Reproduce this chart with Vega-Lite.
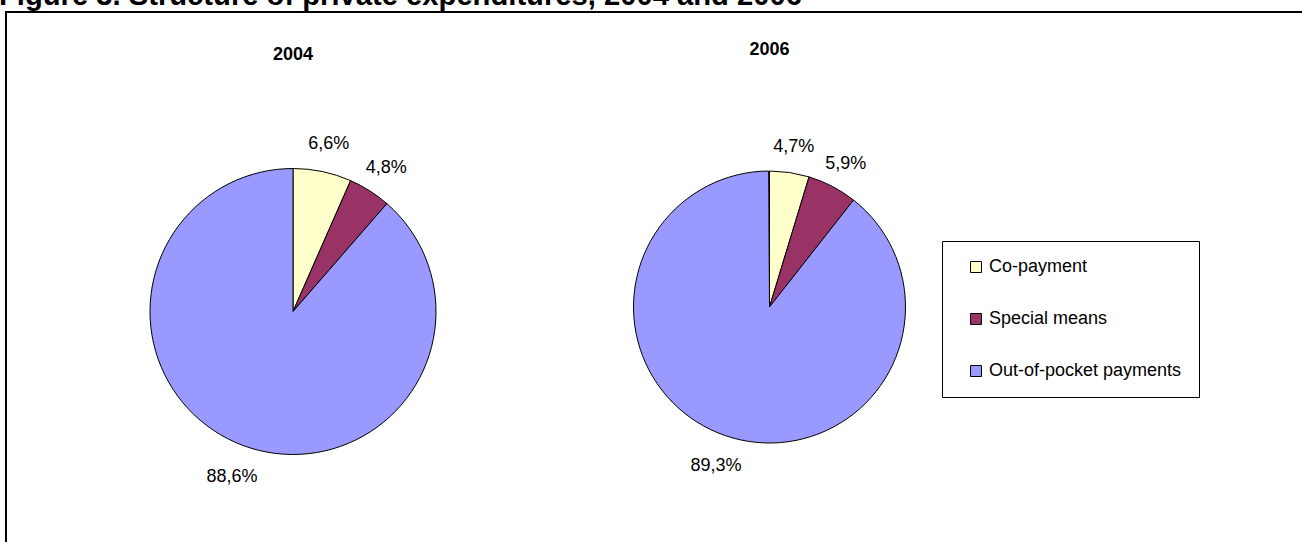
{
  "$schema": "https://vega.github.io/schema/vega-lite/v6.json",
  "width": 1300,
  "height": 535,
  "autosize": {"type": "none"},
  "padding": {"left": 6, "top": 12, "right": 0, "bottom": 0},
  "background": "#ffffff",
  "title": {
    "text": "Figure 3. Structure of private expenditures, 2004 and 2006",
    "anchor": "start",
    "frame": "group",
    "font": "Liberation Sans",
    "fontSize": 29.2,
    "fontWeight": "bold",
    "color": "#000000",
    "dx": -7,
    "offset": 1
  },
  "config": {
    "locale": {
      "number": {
        "decimal": ",",
        "thousands": ".",
        "grouping": [3],
        "currency": ["", " €"],
        "percent": "%"
      }
    },
    "view": {"stroke": "#000000", "strokeWidth": 2},
    "font": "Liberation Sans"
  },
  "data": {
    "values": [
      {"year": "2004", "category": "Co-payment", "seq": 1, "share": 0.066},
      {"year": "2004", "category": "Special means", "seq": 2, "share": 0.048},
      {"year": "2004", "category": "Out-of-pocket payments", "seq": 3, "share": 0.886},
      {"year": "2006", "category": "Co-payment", "seq": 1, "share": 0.047},
      {"year": "2006", "category": "Special means", "seq": 2, "share": 0.059},
      {"year": "2006", "category": "Out-of-pocket payments", "seq": 3, "share": 0.893}
    ]
  },
  "encoding": {
    "x": {"field": "year", "type": "nominal", "axis": null,
          "scale": {"domain": ["2004", "2006"], "range": [287, 763.5], "padding": 0}},
    "y": {"field": "year", "type": "nominal", "axis": null,
          "scale": {"domain": ["2004", "2006"], "range": [299.5, 295], "padding": 0}}
  },
  "layer": [
    {
      "transform": [{"filter": "datum.year === '2004'"}],
      "mark": {"type": "arc", "radius": 143, "stroke": "#000000", "strokeWidth": 1},
      "encoding": {
        "theta": {"field": "share", "type": "quantitative", "stack": true},
        "order": {"field": "seq", "type": "quantitative"},
        "color": {
          "field": "category", "type": "nominal",
          "scale": {
            "domain": ["Co-payment", "Special means", "Out-of-pocket payments"],
            "range": ["#FFFFCC", "#993366", "#9999FF"]
          },
          "legend": {
            "title": null,
            "orient": "none",
            "legendX": 936,
            "legendY": 229,
            "direction": "vertical",
            "symbolType": "square",
            "symbolSize": 121,
            "symbolStrokeColor": "#000000",
            "symbolStrokeWidth": 1,
            "symbolOffset": 8,
            "labelFont": "Liberation Sans",
            "labelFontSize": 18,
            "labelColor": "#000000",
            "labelOffset": 4,
            "labelLimit": 400,
            "rowPadding": 34,
            "padding": 17,
            "strokeColor": "#000000",
            "fillColor": "#ffffff"
          }
        }
      }
    },
    {
      "transform": [{"filter": "datum.year === '2006'"}],
      "mark": {"type": "arc", "radius": 136, "stroke": "#000000", "strokeWidth": 1},
      "encoding": {
        "theta": {"field": "share", "type": "quantitative", "stack": true},
        "order": {"field": "seq", "type": "quantitative"},
        "color": {"field": "category", "type": "nominal"}
      }
    },
    {
      "transform": [{"filter": "datum.year === '2004'"}],
      "mark": {"type": "text", "radius": 174, "dy": 3, "font": "Liberation Sans", "fontSize": 18, "color": "#000000"},
      "encoding": {
        "theta": {"field": "share", "type": "quantitative", "stack": true},
        "order": {"field": "seq", "type": "quantitative"},
        "text": {"field": "share", "type": "quantitative", "format": ".1%"}
      }
    },
    {
      "transform": [{"filter": "datum.year === '2006'"}],
      "mark": {"type": "text", "radius": 165, "dy": 3, "font": "Liberation Sans", "fontSize": 18, "color": "#000000"},
      "encoding": {
        "theta": {"field": "share", "type": "quantitative", "stack": true},
        "order": {"field": "seq", "type": "quantitative"},
        "text": {"field": "share", "type": "quantitative", "format": ".1%"}
      }
    },
    {
      "transform": [{"filter": "datum.seq === 1"}],
      "mark": {"type": "text", "dy": -257, "font": "Liberation Sans", "fontSize": 18, "fontWeight": "bold", "color": "#000000"},
      "encoding": {
        "text": {"field": "year", "type": "nominal"}
      }
    }
  ]
}
